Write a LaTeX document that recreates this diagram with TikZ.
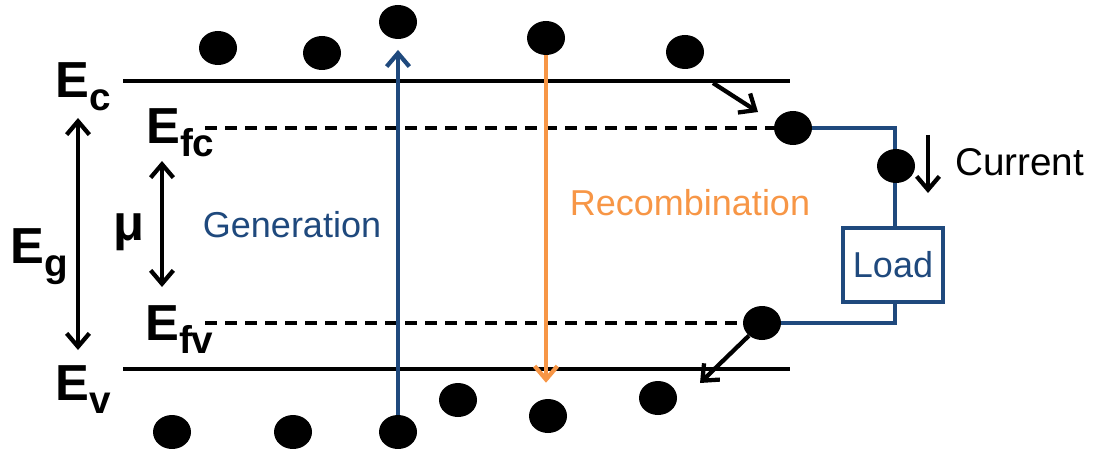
\documentclass[tikz,border=0pt]{standalone}
\usepackage{fontspec}
\setmainfont{Liberation Sans}
\usetikzlibrary{arrows.meta,shapes.geometric}
\definecolor{genblue}{RGB}{31,73,125}
\definecolor{recorange}{RGB}{247,150,70}
\newcommand\Elab[1]{E\raisebox{-9.75pt}{\fontsize{29}{29}\selectfont #1}}
\begin{document}
\begin{tikzpicture}[x=0.75pt,y=-0.75pt,
 dot/.style={ellipse,fill=black,inner sep=0pt,minimum width=28.5pt,minimum height=25.5pt},
 level/.style={line width=3.4pt},
 fermi/.style={line width=3.4pt,dash pattern=on 9pt off 6pt},
 wire/.style={draw=genblue,line width=2.8pt},
 barb/.style={line width=3.2pt,-{Straight Barb[length=10pt,width=17pt]}},
 dbarb/.style={line width=3.2pt,{Straight Barb[length=10pt,width=17pt]}-{Straight Barb[length=10pt,width=17pt]}},
 big/.style={font=\fontsize{38}{40}\selectfont\bfseries,inner sep=0pt,anchor=base west},
 txt/.style={font=\fontsize{27}{30}\selectfont,inner sep=0pt}
]
\useasboundingbox (0,0) rectangle (1094,449);

% band edges
\coordinate (ecL) at (123,81);
\coordinate (ecR) at (790,81);
\coordinate (evL) at (123,369);
\coordinate (evR) at (790,369);
\draw[level] (ecL) -- (ecR);
\draw[level] (evL) -- (evR);

% carriers
\node[dot] (t1) at (218,48) {};
\node[dot] (t2) at (322,53) {};
\node[dot] (gt) at (398,22) {};
\node[dot] (rt) at (546,38) {};
\node[dot] (t5) at (685,52) {};
\node[dot] (b1) at (172,432) {};
\node[dot] (b2) at (293,432) {};
\node[dot] (gb) at (398,432) {};
\node[dot] (b4) at (458,400) {};
\node[dot] (rb) at (548,416) {};
\node[dot] (b6) at (658,398) {};

% quasi-Fermi levels
\node[dot] (dfc) at (793,128) {};
\node[dot] (dfv) at (762,323) {};
\coordinate (fcL) at (205,128);
\coordinate (fvL) at (205,323);
\draw[fermi] (fcL) -- (dfc.west);
\draw[fermi] (fvL) -- (dfv.west);

% circuit
\node[draw=genblue,line width=2.8pt,minimum width=75pt,minimum height=56pt,inner sep=0pt,
      txt,text=genblue] (load) at (893,265) {Load};
\coordinate (cTR) at (895,128);
\coordinate (cBR) at (895,323);
\draw[wire] (dfc.east) -- (cTR) -- (load.north -| cTR);
\draw[wire] (load.south -| cBR) -- (cBR) -- (dfv.east);
\node[dot] (cur) at (896,166) {};
\coordinate (curA) at (928,135);
\coordinate (curB) at (928,193);
\draw[barb] (curA) -- (curB);
\node[txt,anchor=west,font=\fontsize{29}{32}\selectfont] (curT) at (955,162) {Current};

% generation / recombination
\draw[barb,draw=genblue,shorten >=8pt] (gb.north) -- (gt.south);
\draw[barb,draw=recorange,shorten >=12pt] (rt.south) -- (rt.south |- rb.north);
\node[txt,text=genblue] (gen) at (292,225) {Generation};
\node[txt,text=recorange] (rec) at (690,203) {Recombination};

% thermalisation arrows
\coordinate (a1s) at (713,83);
\coordinate (a1e) at (758,112);
\draw[barb] (a1s) -- (a1e);
\coordinate (a2e) at (700,383);
\draw[barb] (dfv) -- (a2e);

% energy labels
\node[big] (Ec) at (55,98) {\Elab{c}};
\node[big] (Efc) at (146,143) {\Elab{fc}};
\node[big] (Eg) at (10,263) {\Elab{g}};
\node[big] (mu) at (113,240) {μ};
\node[big] (Efv) at (145,340) {\Elab{fv}};
\node[big] (Ev) at (55,400) {\Elab{v}};

\coordinate (egT) at (78,118);
\coordinate (egB) at (78,350);
\draw[dbarb] (egT) -- (egB);
\coordinate (muT) at (162,161);
\coordinate (muB) at (162,287);
\draw[dbarb] (muT) -- (muB);
\end{tikzpicture}
\end{document}
